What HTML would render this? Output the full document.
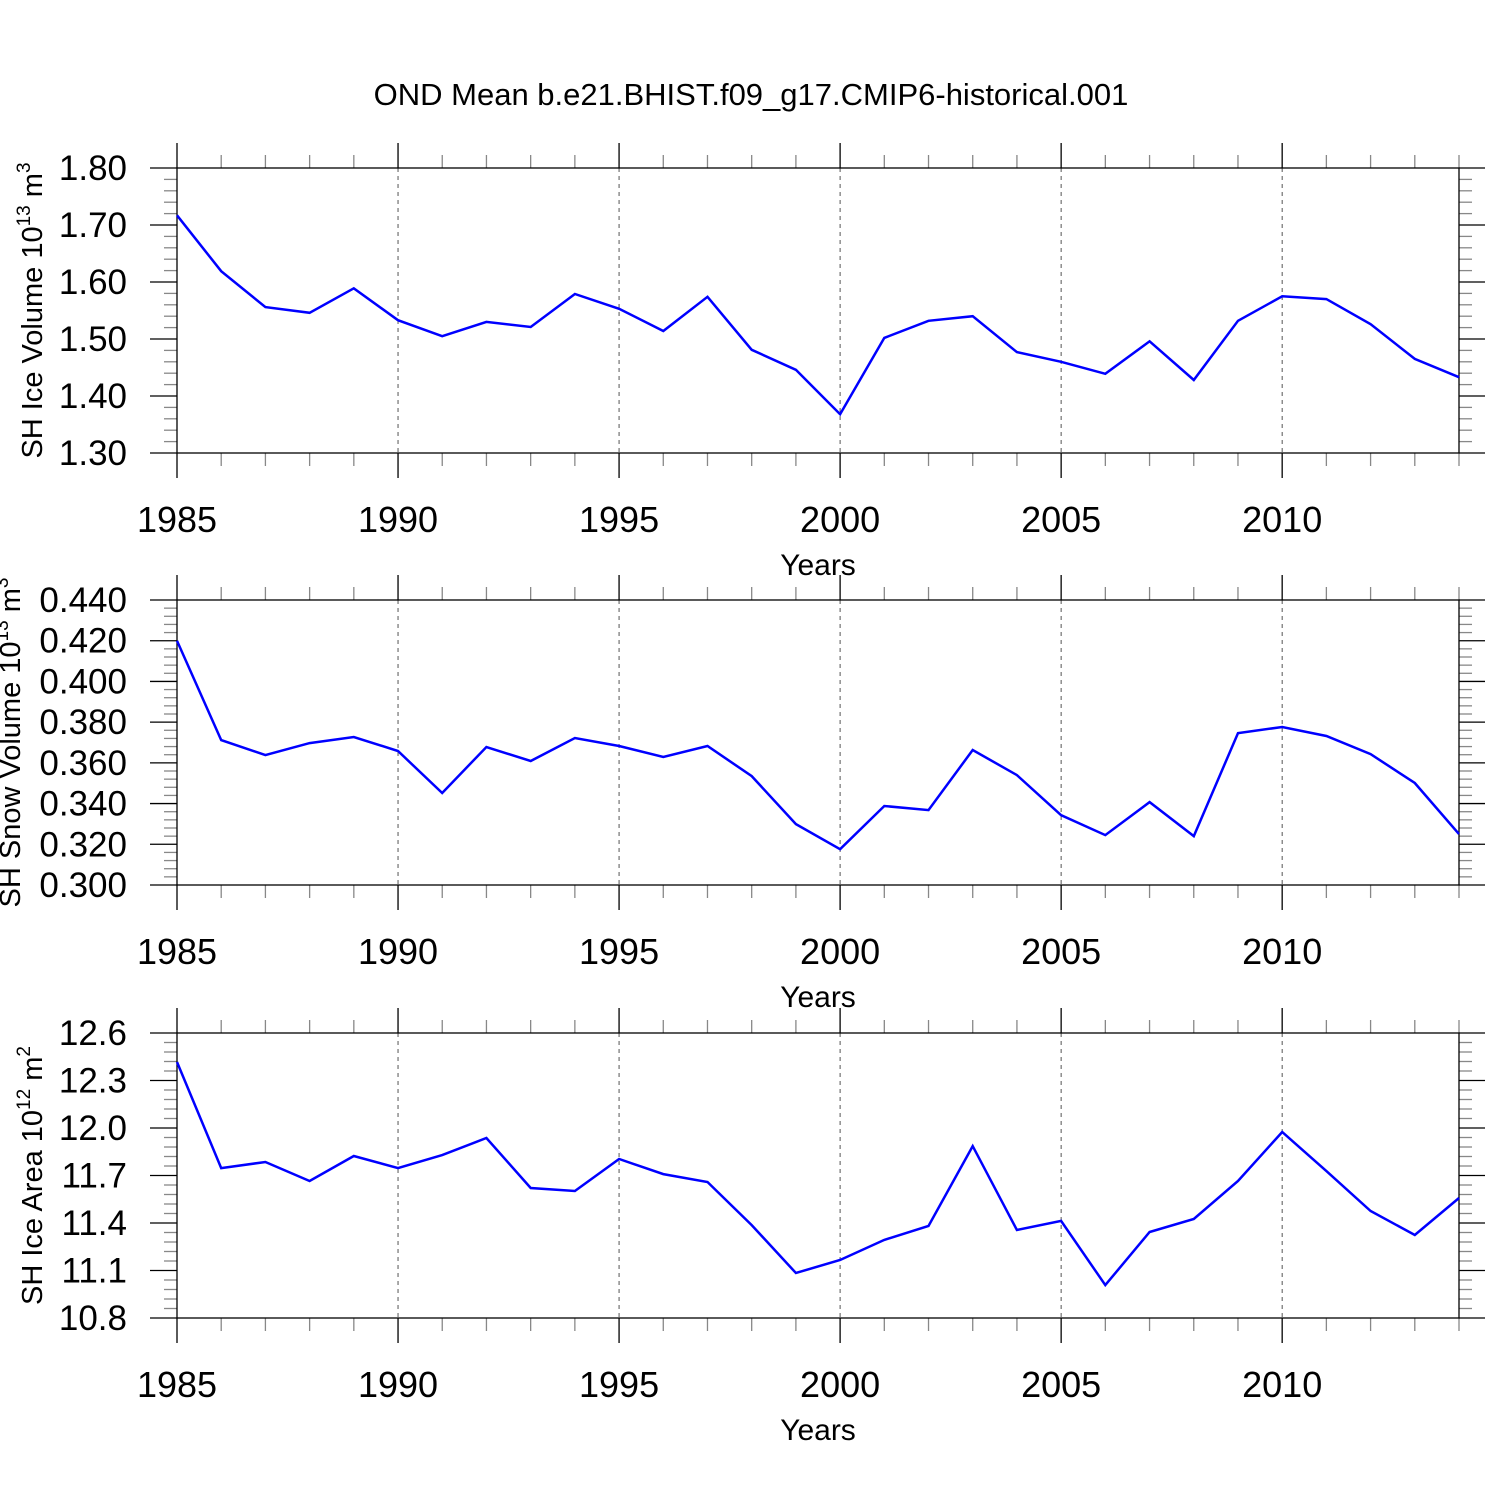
<!DOCTYPE html>
<html><head><meta charset="utf-8"><style>
html,body{margin:0;padding:0;background:#fff}
svg{display:block;font-family:"Liberation Sans",Arial,sans-serif}
</style></head><body>
<svg id="chart" width="1500" height="1500" viewBox="0 0 1500 1500" xmlns="http://www.w3.org/2000/svg">
<rect width="1500" height="1500" fill="#fff"/>
<text x="751" y="105" font-size="31" text-anchor="middle">OND Mean b.e21.BHIST.f09_g17.CMIP6-historical.001</text>
</svg>
<script>
const years = [1985,1986,1987,1988,1989,1990,1991,1992,1993,1994,1995,1996,1997,1998,1999,2000,2001,2002,2003,2004,2005,2006,2007,2008,2009,2010,2011,2012,2013,2014];
const iceVolume = [1.717,1.619,1.556,1.546,1.589,1.533,1.505,1.530,1.521,1.579,1.553,1.514,1.574,1.481,1.446,1.368,1.502,1.532,1.540,1.477,1.460,1.439,1.496,1.428,1.532,1.575,1.570,1.526,1.465,1.433];
const snowVolume = [0.420,0.3712,0.3638,0.3697,0.3727,0.3658,0.3452,0.3678,0.3609,0.3722,0.3683,0.3629,0.3683,0.3535,0.3299,0.3176,0.3388,0.3368,0.3663,0.3540,0.3343,0.3245,0.3407,0.3240,0.3746,0.3776,0.3732,0.3643,0.3501,0.3250];
const iceArea = [12.417,11.747,11.785,11.665,11.823,11.747,11.829,11.937,11.621,11.602,11.804,11.709,11.659,11.387,11.084,11.166,11.293,11.381,11.886,11.356,11.413,11.008,11.343,11.425,11.665,11.975,11.728,11.476,11.324,11.558];
const xTicks = [1985,1990,1995,2000,2005,2010];
const iceVolTicks = ["1.30","1.40","1.50","1.60","1.70","1.80"];
const snowTicks = ["0.300","0.320","0.340","0.360","0.380","0.400","0.420","0.440"];
const areaTicks = ["10.8","11.1","11.4","11.7","12.0","12.3","12.6"];

const NS="http://www.w3.org/2000/svg";
const svg=document.getElementById('chart');
function mk(tag,attrs,parent){const e=document.createElementNS(NS,tag);for(const k in attrs)e.setAttribute(k,attrs[k]);(parent||svg).appendChild(e);return e;}
const X0=177,X1=1459,XMIN=1985,XMAX=2014;
const xs=v=>X0+(v-XMIN)/(XMAX-XMIN)*(X1-X0);

function panel(name,top,values,ticks,titleMain,titleSup,titleUnit,unitSup,titleX){
  const bot=top+285;
  const ymin=parseFloat(ticks[0]),ymax=parseFloat(ticks[ticks.length-1]);
  const ys=v=>bot-(v-ymin)/(ymax-ymin)*(bot-top);
  const g=mk('g',{});
  
  
  xTicks.slice(1).forEach(t=>{
    const l=mk('line',{x1:xs(t),x2:xs(t),y1:top,y2:bot,stroke:'#555','stroke-width':1,'stroke-dasharray':'4,4'},g);
    
    
  });
  for(let yv=XMIN;yv<=XMAX;yv++){
    const major=(yv%5===0);
    const len=major?25:13;
    mk('line',{x1:xs(yv),x2:xs(yv),y1:top,y2:top-len,stroke:major?'#000':'#888','stroke-width':1.3},g);
    mk('line',{x1:xs(yv),x2:xs(yv),y1:bot,y2:bot+len,stroke:major?'#000':'#888','stroke-width':1.3},g);
  }
  const n=ticks.length-1, step=(bot-top)/n;
  for(let i=0;i<=n;i++){
    const y=bot-i*step;
    mk('line',{x1:X0-27,x2:X0,y1:y,y2:y,stroke:'#000','stroke-width':1.3},g);
    mk('line',{x1:X1,x2:X1+26,y1:y,y2:y,stroke:'#000','stroke-width':1.3},g);
    const t=mk('text',{x:127,y:y+12,'font-size':35,'text-anchor':'end'},g);
    t.textContent=ticks[i];
    
    
    if(i<n){for(let k=1;k<5;k++){const yy=y-k*step/5;
      mk('line',{x1:X0-13,x2:X0,y1:yy,y2:yy,stroke:'#888','stroke-width':1.3},g);
      mk('line',{x1:X1,x2:X1+13,y1:yy,y2:yy,stroke:'#888','stroke-width':1.3},g);}}
  }
  const box=mk('rect',{x:X0,y:top,width:X1-X0,height:bot-top,fill:'none',stroke:'#000','stroke-width':1.3},g);
  
  
  xTicks.forEach(t=>{
    const e=mk('text',{x:xs(t),y:bot+79,'font-size':36,'text-anchor':'middle'},g);
    e.textContent=t;
    
    
  });
  const xt=mk('text',{x:818,y:bot+122,'font-size':30,'text-anchor':'middle'},g);
  xt.textContent='Years';
  
  
  const yt=mk('text',{x:0,y:0,'font-size':29,'text-anchor':'middle',transform:`translate(${titleX},${(top+bot)/2}) rotate(-90)`},g);
  
  
  yt.innerHTML=`${titleMain}<tspan dy="-12" font-size="19">${titleSup}</tspan><tspan dy="12"> ${titleUnit}</tspan><tspan dy="-12" font-size="19">${unitSup}</tspan>`;
  const pts=values.map((v,i)=>xs(years[i]).toFixed(1)+','+ys(v).toFixed(1)).join(' ');
  const pl=mk('polyline',{points:pts,fill:'none',stroke:'#0000ff','stroke-width':2.5},g);
  
  
}
panel('ice-volume',168,iceVolume,iceVolTicks,'SH Ice Volume 10','13','m','3',42);
panel('snow-volume',600,snowVolume,snowTicks,'SH Snow Volume 10','13','m','3',20);
panel('ice-area',1033,iceArea,areaTicks,'SH Ice Area 10','12','m','2',42);
</script>
</body></html>
